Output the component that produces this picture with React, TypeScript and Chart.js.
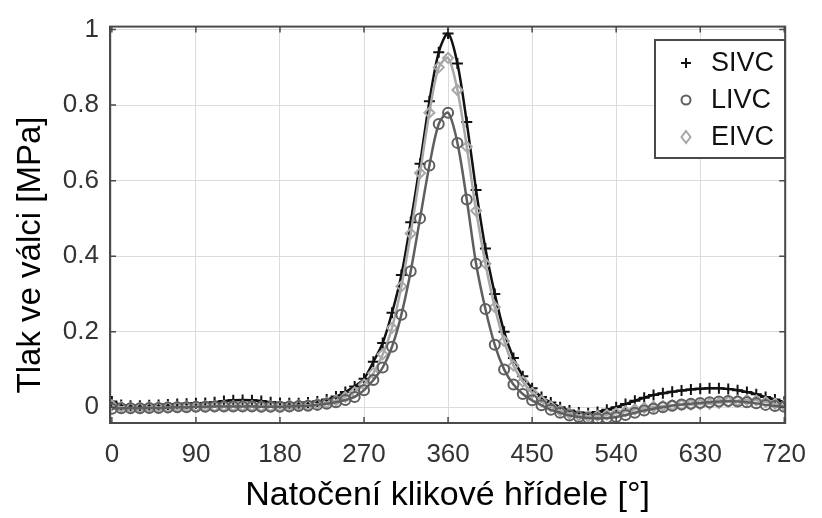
import React, { useEffect, useRef } from "react";
import { Chart, registerables } from "chart.js";

Chart.register(...registerables);

const angles = [
  0, 10, 20, 30, 40, 50, 60, 70, 80, 90,
  100, 110, 120, 130, 140, 150, 160, 170, 180, 190,
  200, 210, 220, 230, 240, 250, 260, 270, 280, 290,
  300, 310, 320, 330, 340, 350, 360, 370, 380, 390,
  400, 410, 420, 430, 440, 450, 460, 470, 480, 490,
  500, 510, 520, 530, 540, 550, 560, 570, 580, 590,
  600, 610, 620, 630, 640, 650, 660, 670, 680, 690,
  700, 710, 720,
];

const sivc = [
  0.015, 0.006, 0.004, 0.004, 0.005, 0.006, 0.007, 0.008, 0.009, 0.01,
  0.011, 0.013, 0.016, 0.018, 0.019, 0.018, 0.016, 0.013, 0.011, 0.01,
  0.01, 0.012, 0.015, 0.02, 0.028, 0.04, 0.055, 0.075, 0.12, 0.17,
  0.25, 0.35, 0.49, 0.645, 0.81, 0.94, 0.99, 0.91, 0.755, 0.575,
  0.42, 0.3, 0.2, 0.13, 0.082, 0.05, 0.027, 0.012, 0.0, -0.009,
  -0.014, -0.016, -0.013, -0.007, 0.0, 0.008, 0.017, 0.025, 0.032, 0.037,
  0.041, 0.044, 0.047, 0.049, 0.05, 0.05, 0.048, 0.045, 0.04, 0.034,
  0.027, 0.02, 0.014,
];

const livc = [
  -0.004, -0.003, -0.003, -0.003, -0.002, -0.002, -0.001, 0.0, 0.0, 0.001,
  0.001, 0.002, 0.002, 0.002, 0.002, 0.002, 0.001, 0.001, 0.001, 0.002,
  0.003, 0.004, 0.006, 0.009, 0.013, 0.019, 0.027, 0.045, 0.072, 0.105,
  0.16, 0.245, 0.36, 0.5, 0.64, 0.75, 0.78, 0.7, 0.55, 0.38,
  0.26, 0.165, 0.1, 0.06, 0.035, 0.018, 0.005, -0.007, -0.015, -0.022,
  -0.026, -0.029, -0.03, -0.029, -0.026, -0.021, -0.015, -0.009, -0.004, 0.0,
  0.004, 0.007, 0.009, 0.011, 0.013, 0.015, 0.016, 0.015, 0.013, 0.01,
  0.006, 0.003, 0.001,
];

const eivc = [
  0.005, 0.0, -0.002, -0.002, -0.001, -0.001, 0.0, 0.0, 0.001, 0.001,
  0.002, 0.002, 0.003, 0.003, 0.003, 0.003, 0.002, 0.002, 0.002, 0.003,
  0.004, 0.005, 0.008, 0.012, 0.018, 0.027, 0.04, 0.06, 0.09, 0.14,
  0.21, 0.32, 0.46, 0.62, 0.78, 0.9, 0.925, 0.84, 0.69, 0.52,
  0.38, 0.265, 0.175, 0.11, 0.068, 0.038, 0.017, 0.002, -0.009, -0.017,
  -0.022, -0.024, -0.023, -0.02, -0.016, -0.011, -0.006, -0.002, 0.001, 0.003,
  0.005, 0.006, 0.007, 0.008, 0.009, 0.011, 0.014, 0.017, 0.019, 0.018,
  0.014, 0.009, 0.005,
];

const seriesNames = ["SIVC", "LIVC", "EIVC"];
const xTicks = [0, 90, 180, 270, 360, 450, 540, 630, 720];
const yTicks = [0, 0.2, 0.4, 0.6, 0.8, 1];
const yTickLabels = ["0", "0.2", "0.4", "0.6", "0.8", "1"];
const xTitle = "Natočení klikové hřídele [°]";
const yTitle = "Tlak ve válci [MPa]";

const FONT = "'Liberation Sans', Arial, sans-serif";

const overlayPlugin = {
  id: "overlay",
  afterDraw(chart: any) {
    const { ctx, chartArea } = chart;
    const { left, right, top, bottom } = chartArea;
    const xs = chart.scales.x;
    const ys = chart.scales.y;
    ctx.save();
    // frame
    ctx.strokeStyle = "#4a4a4a";
    ctx.lineWidth = 2;
    ctx.strokeRect(left, top, right - left, bottom - top);
    // inner tick marks
    ctx.lineWidth = 1.5;
    ctx.beginPath();
    xTicks.forEach((v) => {
      const px = xs.getPixelForValue(v);
      ctx.moveTo(px, bottom);
      ctx.lineTo(px, bottom - 6);
      ctx.moveTo(px, top);
      ctx.lineTo(px, top + 6);
    });
    yTicks.forEach((v) => {
      const py = ys.getPixelForValue(v);
      ctx.moveTo(left, py);
      ctx.lineTo(left + 6, py);
      ctx.moveTo(right, py);
      ctx.lineTo(right - 6, py);
    });
    ctx.stroke();

    // y title
    ctx.fillStyle = "#000";
    ctx.font = `33px ${FONT}`;
    ctx.textAlign = "center";
    ctx.textBaseline = "middle";
    ctx.save();
    ctx.translate(31, 255);
    ctx.rotate(-Math.PI / 2);
    ctx.fillText(yTitle, 0, 0);
    ctx.restore();

    // legend
    const bx = 655, by = 40, bw = 130, bh = 118;
    ctx.fillStyle = "#fff";
    ctx.fillRect(bx, by, bw, bh);
    ctx.strokeStyle = "#4a4a4a";
    ctx.lineWidth = 2;
    ctx.strokeRect(bx, by, bw, bh);
    const rows = [63, 100, 137];
    chart.data.datasets.forEach((ds: any, i: number) => {
      const y = rows[i];
      const x = 686;
      ctx.strokeStyle = ds.borderColor;
      ctx.lineWidth = 2;
      ctx.beginPath();
      if (ds.pointStyle === "cross") {
        ctx.moveTo(x - 5, y);
        ctx.lineTo(x + 5, y);
        ctx.moveTo(x, y - 5);
        ctx.lineTo(x, y + 5);
      } else if (ds.pointStyle === "circle") {
        ctx.arc(x, y, 4.5, 0, Math.PI * 2);
      } else {
        ctx.moveTo(x, y - 6);
        ctx.lineTo(x + 4.5, y);
        ctx.lineTo(x, y + 6);
        ctx.lineTo(x - 4.5, y);
        ctx.closePath();
      }
      ctx.stroke();
      ctx.fillStyle = "#111";
      ctx.font = `27px ${FONT}`;
      ctx.textAlign = "left";
      ctx.textBaseline = "middle";
      ctx.fillText(seriesNames[i], 711, y + 1);
    });
    ctx.restore();
  },
};

export default function App() {
  const canvasRef = useRef<HTMLCanvasElement | null>(null);

  useEffect(() => {
    if (!canvasRef.current) return;
    const mk = (vals: number[]) => angles.map((a, i) => ({ x: a, y: vals[i] }));
    const chart = new Chart(canvasRef.current, {
      type: "line",
      data: {
        datasets: [
          {
            label: seriesNames[0],
            data: mk(sivc),
            borderColor: "#111111",
            backgroundColor: "#111111",
            borderWidth: 2.5,
            pointStyle: "cross",
            pointRadius: 5.5,
            pointBorderWidth: 2,
            pointBorderColor: "#111111",
            tension: 0.3,
            order: 3,
          },
          {
            label: seriesNames[1],
            data: mk(livc),
            borderColor: "#5f5f5f",
            backgroundColor: "rgba(0,0,0,0)",
            borderWidth: 2.5,
            pointStyle: "circle",
            pointRadius: 5,
            pointBorderWidth: 2,
            pointBorderColor: "#5f5f5f",
            tension: 0.3,
            order: 1,
          },
          {
            label: seriesNames[2],
            data: mk(eivc),
            borderColor: "#a8a8a8",
            backgroundColor: "rgba(0,0,0,0)",
            borderWidth: 2.5,
            pointStyle: "rectRot",
            pointRadius: 5,
            pointBorderWidth: 2,
            pointBorderColor: "#a8a8a8",
            tension: 0.3,
            order: 2,
          },
        ],
      },
      options: {
        responsive: false,
        animation: false,
        devicePixelRatio: 1,
        layout: { padding: { left: 0, right: 24, top: 24, bottom: 0 } },
        plugins: {
          legend: { display: false },
          tooltip: { enabled: false },
        },
        scales: {
          x: {
            type: "linear",
            min: -2,
            max: 721,
            afterFit: (s: any) => {
              s.height = 95;
            },
            afterBuildTicks: (s: any) => {
              s.ticks = xTicks.map((v) => ({ value: v }));
            },
            grid: { color: "#dcdcdc", lineWidth: 1, drawTicks: false },
            border: { display: false },
            ticks: {
              padding: 16,
              color: "#333",
              font: { size: 26, family: FONT },
              maxRotation: 0,
              autoSkip: false,
              callback: (v: any) => String(v),
            },
            title: {
              display: true,
              text: xTitle,
              color: "#000",
              font: { size: 34, family: FONT },
              padding: { top: 0, bottom: 2 },
            },
          },
          y: {
            type: "linear",
            min: -0.042,
            max: 1.008,
            afterFit: (s: any) => {
              s.width = 110;
            },
            afterBuildTicks: (s: any) => {
              s.ticks = yTicks.map((v) => ({ value: v }));
            },
            grid: { color: "#dcdcdc", lineWidth: 1, drawTicks: false },
            border: { display: false },
            ticks: {
              padding: 11,
              color: "#333",
              font: { size: 26, family: FONT },
              autoSkip: false,
              callback: (v: any) => {
                const idx = yTicks.indexOf(Number(v));
                return idx >= 0 ? yTickLabels[idx] : "";
              },
            },
          },
        },
      },
      plugins: [overlayPlugin],
    } as any);
    return () => chart.destroy();
  }, []);

  return (
    <div style={{ position: "fixed", left: 0, top: 0, width: 822, height: 518, background: "#fff" }}>
      <canvas ref={canvasRef} width={822} height={518} style={{ display: "block" }} />
    </div>
  );
}
